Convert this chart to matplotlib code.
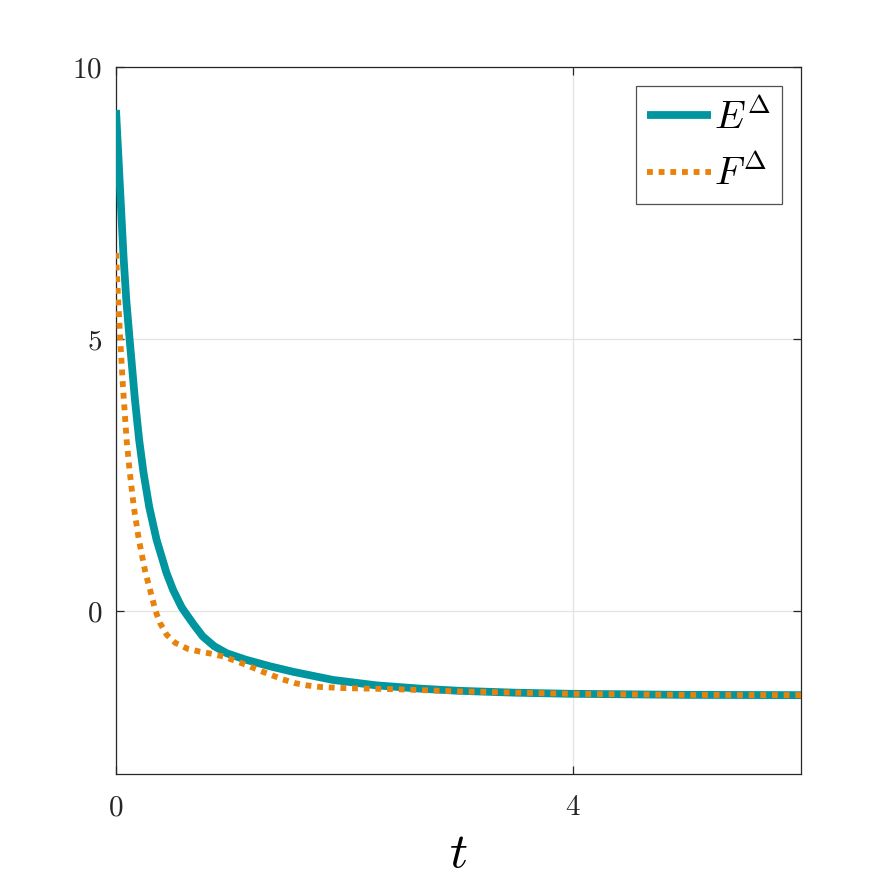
import matplotlib
matplotlib.use("Agg")
import matplotlib.pyplot as plt

plt.rcParams['mathtext.fontset'] = 'cm'
plt.rcParams['font.family'] = ['DejaVu Serif']

# Data
t_E = [0.0, 0.066, 0.090, 0.119, 0.166, 0.203, 0.241, 0.291, 0.355, 0.442, 0.499,
       0.574, 0.596, 0.68, 0.76, 0.86, 0.97, 1.14, 1.35, 1.55, 1.90, 2.28, 2.66,
       3.0, 3.5, 3.97, 5.0, 6.0]
E = [9.21, 6.51, 5.72, 5.00, 3.88, 3.14, 2.54, 1.91, 1.31, 0.70, 0.39,
     0.07, 0.0, -0.25, -0.47, -0.65, -0.78, -0.90, -1.02, -1.12, -1.27, -1.37, -1.43,
     -1.47, -1.505, -1.525, -1.545, -1.55]

t_F = [0.0, 0.019, 0.037, 0.061, 0.093, 0.121, 0.156, 0.200, 0.258, 0.298, 0.346,
       0.385, 0.444, 0.52, 0.63, 0.735, 0.84, 0.94, 1.06, 1.16, 1.26, 1.36, 1.46,
       1.57, 1.67, 1.79, 1.99, 2.43, 3.0, 3.97, 5.0, 6.0]
F = [6.58, 5.72, 5.00, 4.12, 3.14, 2.54, 1.91, 1.31, 0.70, 0.39, 0.0,
     -0.22, -0.44, -0.59, -0.70, -0.75, -0.79, -0.84, -0.93, -1.01, -1.10, -1.18, -1.26,
     -1.33, -1.37, -1.40, -1.42, -1.44, -1.48, -1.525, -1.545, -1.55]

x_ticks = [0, 4]
y_ticks = [0, 5, 10]

teal = '#00959F'
orange = '#E8820A'

fig = plt.figure(figsize=(8.86, 8.86), dpi=100)
ax = fig.add_axes([116/886, 1 - 774/886, (801-116)/886, (774-67)/886])

ax.plot(t_E, E, color=teal, lw=5.6, solid_capstyle='butt', solid_joinstyle='round',
        label=r'$E^{\Delta}$', zorder=3)
ax.plot(t_F, F, color=orange, lw=4.2, linestyle=(0, (1, 1)), dash_capstyle='butt',
        label=r'$F^{\Delta}$', zorder=4)

ax.set_xlim(0, 6)
ax.set_ylim(-3, 10)
ax.set_xticks(x_ticks)
ax.set_yticks(y_ticks)
ax.set_xticklabels([f'${v}$' for v in x_ticks])
ax.set_yticklabels([f'${v}$' for v in y_ticks])
ax.tick_params(direction='in', length=6, width=0.9, top=True, right=True,
               labelsize=21, colors='#262626')
ax.tick_params(axis='x', pad=14)
ax.tick_params(axis='y', pad=10)
ax.grid(True, color='#E3E3E3', lw=0.9)
ax.set_axisbelow(True)
for s in ax.spines.values():
    s.set_color('#262626')
    s.set_linewidth(0.9)

ax.set_xlabel(r'$t$', fontsize=36, labelpad=5)

leg = ax.legend(loc='upper right', fontsize=28, frameon=True, fancybox=False,
                edgecolor='#262626', handlelength=1.65, handletextpad=0.08,
                borderaxespad=0.5, borderpad=0.28, labelspacing=0.45)
leg.get_frame().set_linewidth(0.9)

fig.savefig('out.png', dpi=100)
